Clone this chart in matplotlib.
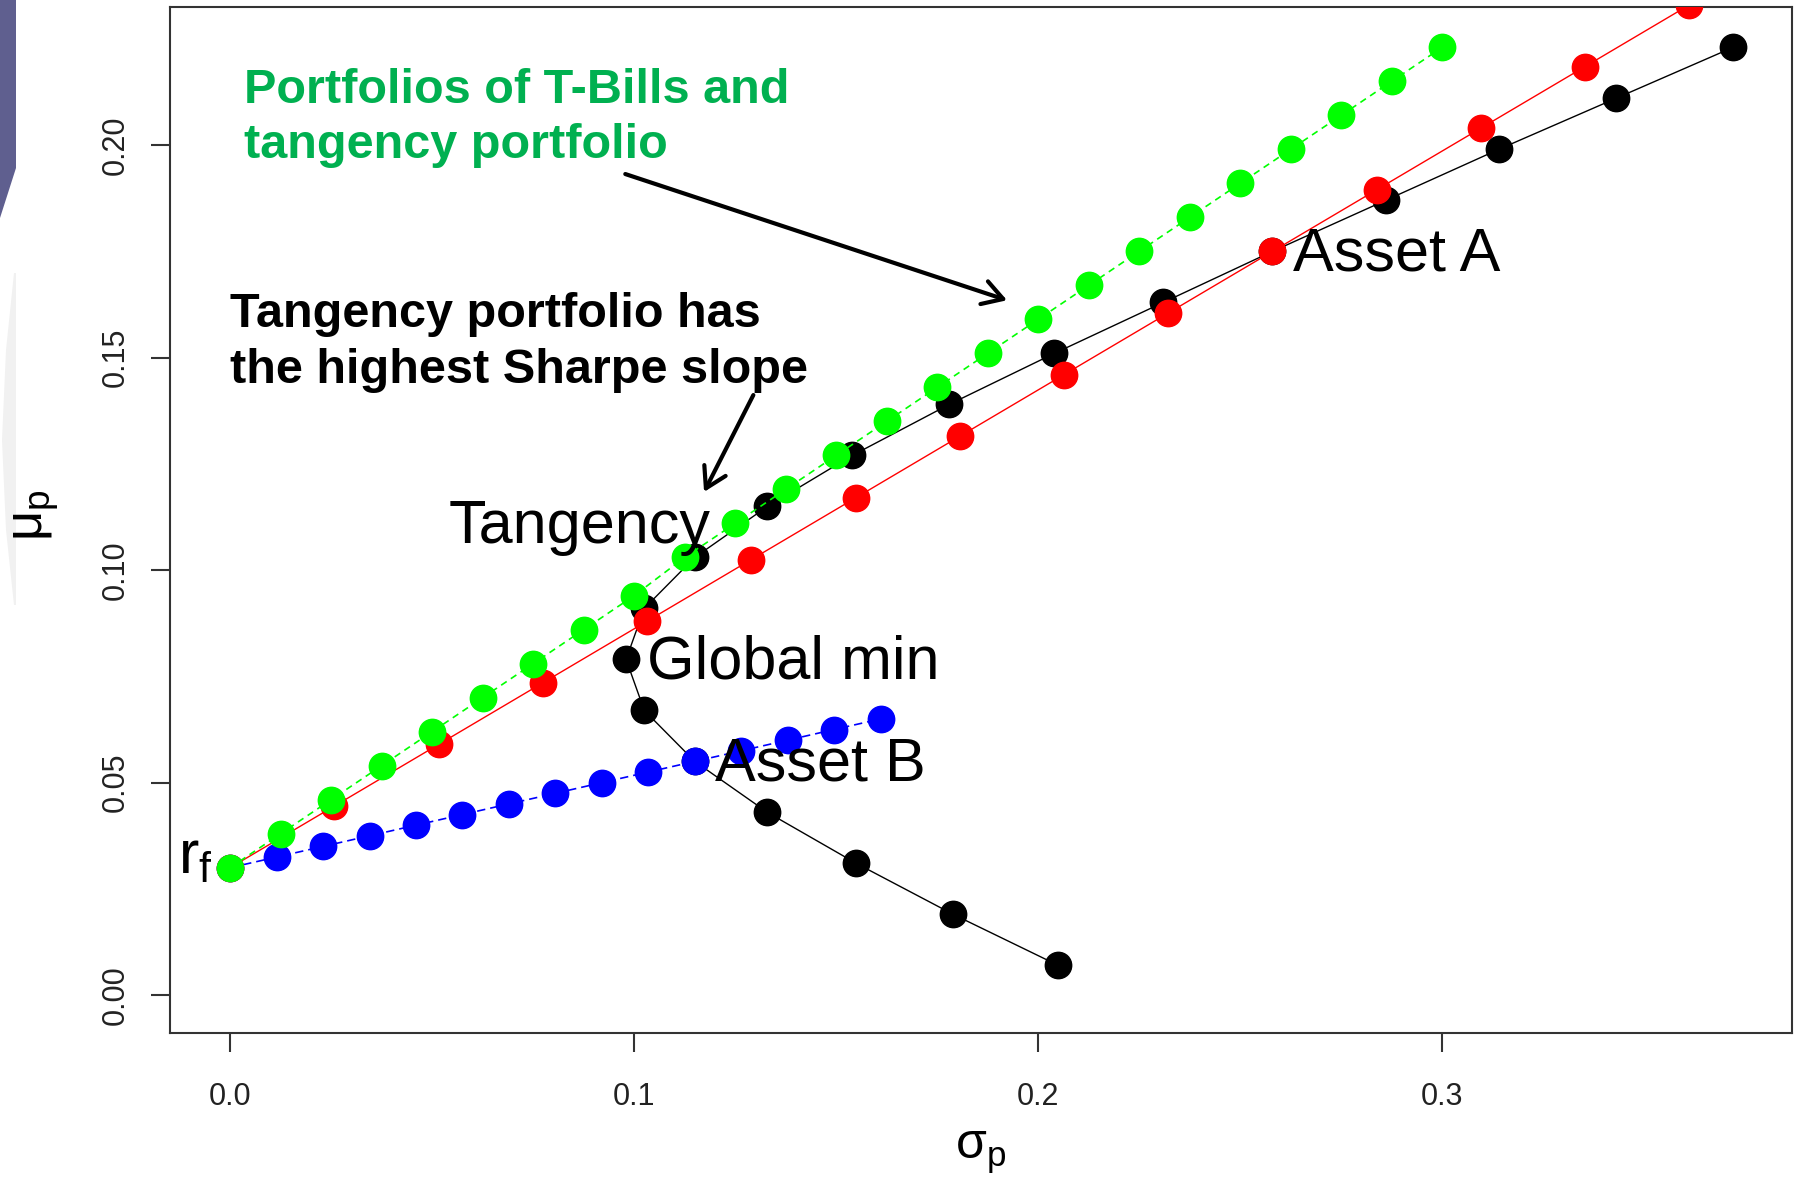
import matplotlib.pyplot as plt
from matplotlib.patches import Polygon

# frontier of the two risky assets (weight on A from -0.4 to 1.4)
front_sd = [0.205, 0.179, 0.155, 0.133, 0.115, 0.1025, 0.098, 0.1025, 0.115, 0.133,
            0.154, 0.178, 0.204, 0.231, 0.258, 0.286, 0.314, 0.343, 0.372]
front_mu = [0.007, 0.019, 0.031, 0.043, 0.055, 0.067, 0.079, 0.091, 0.103, 0.115,
            0.127, 0.139, 0.151, 0.163, 0.175, 0.187, 0.199, 0.211, 0.223]

# T-bills + asset A
a_sd = [0.0, 0.0258, 0.0516, 0.0774, 0.1032, 0.129, 0.1548, 0.1806, 0.2064, 0.2322,
        0.258, 0.2838, 0.3096, 0.3354, 0.3612]
a_mu = [0.030, 0.0445, 0.059, 0.0735, 0.088, 0.1025, 0.117, 0.1315, 0.146, 0.1605,
        0.175, 0.1895, 0.204, 0.2185, 0.233]

# T-bills + asset B
b_sd = [0.0, 0.0115, 0.023, 0.0345, 0.046, 0.0575, 0.069, 0.0805, 0.092, 0.1035,
        0.115, 0.1265, 0.138, 0.1495, 0.161]
b_mu = [0.030, 0.0325, 0.035, 0.0375, 0.040, 0.0425, 0.045, 0.0475, 0.050, 0.0525,
        0.055, 0.0575, 0.060, 0.0625, 0.065]

# T-bills + tangency portfolio
t_sd = [0.0, 0.0125, 0.025, 0.0375, 0.05, 0.0625, 0.075, 0.0875, 0.1, 0.1125, 0.125,
        0.1375, 0.15, 0.1625, 0.175, 0.1875, 0.2, 0.2125, 0.225, 0.2375, 0.25, 0.2625,
        0.275, 0.2875, 0.3]
t_mu = [0.030, 0.038, 0.046, 0.054, 0.062, 0.070, 0.078, 0.086, 0.094, 0.103, 0.111,
        0.119, 0.127, 0.135, 0.143, 0.151, 0.159, 0.167, 0.175, 0.183, 0.191, 0.199,
        0.207, 0.215, 0.223]

x_ticks = [0.0, 0.1, 0.2, 0.3]
x_ticklabels = ['0.0', '0.1', '0.2', '0.3']
y_ticks = [0.00, 0.05, 0.10, 0.15, 0.20]
y_ticklabels = ['0.00', '0.05', '0.10', '0.15', '0.20']

plt.rcParams['font.family'] = ['Liberation Sans', 'DejaVu Sans']
plt.rcParams['mathtext.fontset'] = 'custom'
plt.rcParams['mathtext.rm'] = 'Liberation Sans'
plt.rcParams['mathtext.it'] = 'Liberation Sans:italic'

W, H = 1794, 1183
fig = plt.figure(figsize=(W / 100, H / 100), dpi=100)

# slide decoration on the left edge
fig.patches.append(Polygon([[0, 1], [16 / W, 1], [16 / W, 1 - 168 / H], [0, 1 - 218 / H]],
                           closed=True, transform=fig.transFigure,
                           facecolor='#5f5f8f', edgecolor='none', zorder=0))
fig.patches.append(Polygon([[14 / W, 1 - 273 / H], [16 / W, 1 - 273 / H], [16 / W, 1 - 605 / H],
                            [14 / W, 1 - 605 / H], [6 / W, 1 - 530 / H], [2 / W, 1 - 440 / H],
                            [6 / W, 1 - 350 / H]],
                           closed=True, transform=fig.transFigure,
                           facecolor='#f1f1f1', edgecolor='none', zorder=0))

ax = fig.add_axes([170 / W, 1 - 1033 / H, (1792 - 170) / W, (1033 - 7) / H])

ms = 19
ax.plot(front_sd, front_mu, color='black', lw=1.0, marker='o', ms=ms, zorder=2)
ax.plot(b_sd, b_mu, color='#0000ff', lw=1.2, ls=(0, (5, 3)), marker='o', ms=ms, zorder=3)
ax.plot(a_sd, a_mu, color='#ff0000', lw=1.0, marker='o', ms=ms, zorder=4)
ax.plot(t_sd, t_mu, color='#00ff00', lw=1.2, ls=(0, (4, 3)), marker='o', ms=ms, zorder=5)

ax.set_xlim(-0.0149, 0.3866)
ax.set_ylim(-0.0089, 0.2325)
ax.set_xticks(x_ticks)
ax.set_xticklabels(x_ticklabels)
ax.set_yticks(y_ticks)
ax.set_yticklabels(y_ticklabels)
ax.tick_params(length=14, width=1.5, labelsize=22, color='#333333', labelcolor='#222222')
ax.tick_params(axis='x', pad=21)
ax.tick_params(axis='y', pad=14, labelrotation=90)
for lab in ax.get_yticklabels():
    lab.set_va('center')
for s in ax.spines.values():
    s.set_linewidth(1.5)
    s.set_color('#333333')

fig.text(981 / W, 1 - 1153 / H, r'$\mathrm{\sigma_p}$', fontsize=36, ha='center', va='center')
fig.text(36 / W, 1 - 515 / H, r'$\mathrm{\mu_p}$', fontsize=38, ha='center', va='center',
         rotation=90)

# point labels
lab_fs = 44
ax.text(0.054, 0.1064, 'Tangency', fontsize=lab_fs, va='baseline', zorder=6)
ax.text(0.1032, 0.0746, 'Global min', fontsize=lab_fs, va='baseline', zorder=6)
ax.text(0.120, 0.0506, 'Asset B', fontsize=lab_fs, va='baseline', zorder=6)
ax.text(0.263, 0.1706, 'Asset A', fontsize=lab_fs, va='baseline', zorder=6)
ax.text(-0.0129, 0.0287, r'$\mathregular{r_f}$', fontsize=lab_fs, va='baseline', zorder=6)

# callouts
ax.text(0.0035, 0.2182, 'Portfolios of T-Bills and\ntangency portfolio', fontsize=35,
        fontweight='bold', color='#00b050', va='top', linespacing=1.3, zorder=6)
ax.text(0.0, 0.1654, 'Tangency portfolio has\nthe highest Sharpe slope', fontsize=35,
        fontweight='bold', color='black', va='top', linespacing=1.3, zorder=6)

arrow = dict(arrowstyle='->,head_length=0.72,head_width=0.43', lw=3, color='black',
             mutation_scale=20, shrinkA=0, shrinkB=0)
ax.annotate('', xy=(0.1923, 0.1635), xytext=(0.0978, 0.1932), arrowprops=arrow, zorder=6)
ax.annotate('', xy=(0.1173, 0.1184), xytext=(0.1295, 0.1412), arrowprops=arrow, zorder=6)

fig.savefig('out.png', dpi=100)
plt.close(fig)
